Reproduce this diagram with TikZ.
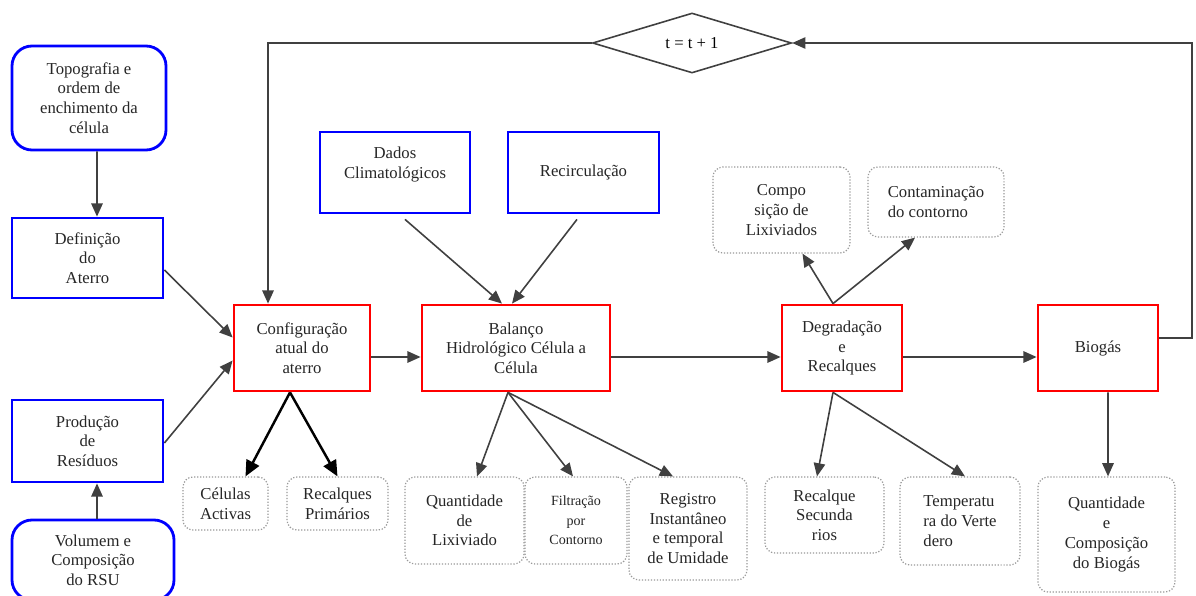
\documentclass[tikz,border=0pt]{standalone}
\usepackage{fontspec}
\setmainfont{Liberation Serif}
\usetikzlibrary{shapes.geometric,arrows.meta,calc}
\tikzset{
  base/.style={font=\fontsize{9.5}{11.2}\selectfont, align=center, inner sep=0pt, fill=white, text=black!85},
  bluebox/.style={base, draw=blue, line width=1.6pt},
  bluerbox/.style={bluebox, rounded corners=0.4cm},
  redbox/.style={base, draw=red, line width=1.6pt},
  outbox/.style={base, draw=gray!80, densely dotted, line width=0.7pt, rounded corners=0.2cm},
  sz/.style 2 args={minimum width={#1*0.02cm}, minimum height={#2*0.02cm}},
  arr/.style={draw=black!75, line width=0.9pt, -{Triangle[length=7.5pt,width=6.5pt]}},
  tarr/.style={draw=black, line width=1.4pt, -{Triangle[length=9pt,width=8pt]}},
}
\begin{document}
\begin{tikzpicture}[x=0.02cm, y=-0.02cm]
\fill[white] (0,0) rectangle (1196,595);
\useasboundingbox (0,0) rectangle (1196,595);

% left column
\node[bluerbox, sz={154}{104}] (topo) at (89,98) {Topografia e\\ordem de\\enchimento da\\célula};
\node[bluebox, sz={151}{80}] (defi) at (87.5,258) {Definição\\do\\Aterro};
\node[bluebox, sz={151}{82}] (prod) at (87.5,441) {Produção\\de\\Resíduos};
\node[bluerbox, sz={162}{80}] (volu) at (93,560) {Volumem e\\Composição\\do RSU};

% main row
\node[redbox, sz={136}{86}] (conf) at (302,348) {Configuração\\atual do\\aterro};
\node[redbox, sz={188}{86}] (bala) at (516,348) {Balanço\\Hidrológico Célula a\\Célula};
\node[redbox, sz={120}{86}] (degr) at (842,348) {Degradação\\e\\Recalques};
\node[redbox, sz={120}{86}] (biog) at (1098,348) {Biogás};

% inputs
\node[bluebox, sz={150}{81}] (dados) at (395,172.5) {Dados\\Climatológicos\\\mbox{}};
\node[bluebox, sz={151}{81}] (reci) at (583.5,172.5) {Recirculação};

% diamond
\node[diamond, draw=black!75, line width=0.9pt, fill=white, inner sep=0pt, aspect=3.3, sz={199}{60}, font=\fontsize{9.5}{11.2}\selectfont] (diam) at (692,43) {t = t + 1};

% outputs
\node[outbox, sz={85}{53}] (cel) at (225.5,503.5) {Células\\Activas};
\node[outbox, sz={101}{53}] (rprim) at (337.5,503.5) {Recalques\\Primários};
\node[outbox, sz={119}{87}] (qlix) at (464.5,520.5) {Quantidade\\de\\Lixiviado};
\node[outbox, sz={102}{87}, font=\fontsize{8}{11.2}\selectfont] (filt) at (576,520.5) {Filtração\\por\\Contorno};
\node[outbox, sz={118}{103}] (regi) at (688,528.5) {Registro\\Instantâneo\\e temporal\\de Umidade};
\node[outbox, sz={137}{86}] (comp) at (781.5,210) {Compo\\sição de\\Lixiviados};
\node[outbox, sz={136}{70}, align=left] (cont) at (936,202) {Contaminação\\do contorno};
\node[outbox, sz={119}{76}] (rsec) at (824.5,515) {Recalque\\Secunda\\rios};
\node[outbox, sz={120}{88}, align=left] (temp) at (960,521) {Temperatu\\ra do Verte\\dero};
\node[outbox, sz={137}{115}] (qbio) at (1106.5,534.5) {Quantidade\\e\\Composição\\do Biogás};

% coordinates for loop
\coordinate (cr) at (1192,43);

% connectors
\draw[arr] ([xshift=0.16cm]topo.south) -- ([xshift=0.19cm]defi.north);
\draw[arr] ([xshift=0.19cm]volu.north -| prod.south) -- ([xshift=0.19cm]prod.south);
\draw[arr] ([yshift=-0.24cm]defi.east) -- ([yshift=0.21cm]conf.west);
\draw[arr] ([yshift=-0.04cm]prod.east) -- ([yshift=-0.25cm]conf.west);
\draw[arr] ([xshift=0.2cm,yshift=-0.1cm]dados.south) -- ([xshift=-0.28cm]bala.north);
\draw[arr] ([xshift=-0.13cm,yshift=-0.1cm]reci.south) -- ([xshift=-0.08cm]bala.north);
\draw[arr] ([yshift=-0.18cm]conf.east) -- ([yshift=-0.18cm]bala.west);
\draw[arr] ([yshift=-0.18cm]bala.east) -- ([yshift=-0.18cm]degr.west);
\draw[arr] ([yshift=-0.18cm]degr.east) -- ([yshift=-0.18cm]biog.west);
\draw[tarr] ([xshift=-0.24cm]conf.south) -- ([xshift=0.4cm]cel.north);
\draw[tarr] ([xshift=-0.24cm]conf.south) -- ([xshift=0cm]rprim.north);
\draw[arr] ([xshift=-0.16cm]bala.south) -- ([xshift=0.25cm]qlix.north);
\draw[arr] ([xshift=-0.16cm]bala.south) -- ([xshift=-0.06cm]filt.north);
\draw[arr] ([xshift=-0.16cm]bala.south) -- ([xshift=-0.3cm]regi.north);
\draw[arr] ([xshift=-0.18cm]degr.north) -- ([xshift=0.42cm]comp.south);
\draw[arr] ([xshift=-0.18cm]degr.north) -- ([xshift=-0.42cm]cont.south);
\draw[arr] ([xshift=-0.18cm]degr.south) -- ([xshift=-0.15cm]rsec.north);
\draw[arr] ([xshift=-0.18cm]degr.south) -- ([xshift=0.1cm]temp.north);
\draw[arr] ([xshift=0.2cm]biog.south) -- ([xshift=0.03cm]qbio.north);
\draw[arr] ([yshift=0.2cm]biog.east) -| (cr) -- (diam.east);
\draw[arr] (diam.west) -| ([xshift=-0.68cm]conf.north);
\end{tikzpicture}
\end{document}
